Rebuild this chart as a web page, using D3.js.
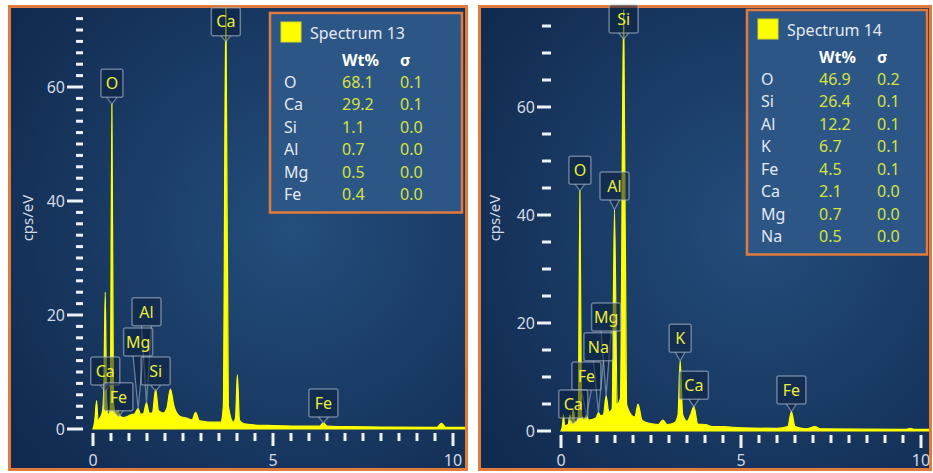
<!DOCTYPE html>
<html>
<head>
<meta charset="utf-8">
<script src="https://cdn.jsdelivr.net/npm/d3@7"></script>
<style>
  body { margin: 0; background: #fff; }
  svg { display: block; font-family: "Noto Sans", "Open Sans", sans-serif; }
</style>
</head>
<body>
<svg id="canvas" width="933" height="473"></svg>
<script>
// spectrum points: [keV, cps/eV]
const spectrum13 = [
  [0, 0], [0.05, 1.5], [0.1, 5], [0.14, 1.5], [0.2, 2], [0.26, 3], [0.3, 7], [0.34, 24],
  [0.38, 5], [0.43, 2.5], [0.48, 3.5], [0.525, 57], [0.57, 4.5], [0.62, 3], [0.7, 3.2],
  [0.76, 2.2], [0.85, 2], [0.95, 2.2], [1.05, 2.5], [1.15, 2.6], [1.253, 3.6], [1.32, 2.6],
  [1.4, 2.7], [1.486, 4.6], [1.56, 2.8], [1.65, 2.8], [1.74, 7], [1.82, 3.2], [1.95, 2.8],
  [2.05, 3.6], [2.15, 7], [2.25, 4], [2.4, 2.3], [2.6, 1.9], [2.75, 1.6], [2.85, 2.9],
  [2.95, 1.5], [3.1, 1.3], [3.3, 1.2], [3.55, 1.2], [3.62, 4], [3.69, 75], [3.76, 4],
  [3.9, 1.2], [3.96, 2], [4.01, 9.5], [4.07, 1.5], [4.2, 0.9], [4.5, 0.7], [5, 0.6],
  [6, 0.5], [6.3, 0.5], [6.4, 1.1], [6.5, 0.5], [7, 0.4], [8, 0.35], [9.55, 0.3],
  [9.68, 1], [9.8, 0.3], [10.5, 0.3]
];
const spectrum14 = [
  [0, 0], [0.04, 1], [0.07, 3], [0.1, 1], [0.2, 1.2], [0.25, 3], [0.28, 1.2], [0.34, 4],
  [0.4, 1.5], [0.48, 2.5], [0.525, 44.5], [0.57, 3], [0.65, 2], [0.705, 3], [0.77, 2],
  [0.9, 2.2], [0.98, 2.5], [1.04, 3.4], [1.1, 2.8], [1.18, 3], [1.253, 6.5], [1.33, 3.5],
  [1.42, 4], [1.486, 41], [1.56, 5], [1.65, 6], [1.74, 78], [1.82, 5], [1.95, 3],
  [2.05, 2.6], [2.14, 5], [2.25, 2], [2.45, 1.4], [2.7, 1.2], [2.83, 2], [2.95, 1.2],
  [3.15, 1.5], [3.25, 3], [3.31, 13], [3.38, 3], [3.5, 1.8], [3.6, 3], [3.69, 4.5],
  [3.8, 1.3], [4.01, 1.2], [4.2, 0.8], [4.5, 0.8], [5, 0.6], [6, 0.5], [6.3, 0.8],
  [6.4, 3.6], [6.5, 0.8], [6.8, 0.4], [7.06, 0.8], [7.2, 0.4], [9.6, 0.3], [9.7, 0.5],
  [9.8, 0.3], [10.5, 0.3]
];

// peak labels: [element, keV, bottom of label box in cps/eV]
const peaks13 = [
  ["Ca", 3.69, 69], ["O", 0.525, 58.2], ["Al", 1.486, 18.1], ["Mg", 1.253, 12.8],
  ["Ca", 0.34, 7.7], ["Si", 1.74, 7.7], ["Fe", 0.705, 3.2], ["Fe", 6.4, 2.1]
];
const peaks14 = [
  ["Si", 1.74, 73.7], ["O", 0.525, 45.7], ["Al", 1.486, 42.8], ["Mg", 1.253, 18.5],
  ["Na", 1.04, 13], ["Fe", 0.705, 7.6], ["Ca", 0.34, 2.4], ["K", 3.31, 14.6],
  ["Ca", 3.69, 5.9], ["Fe", 6.4, 5]
];

// quantification tables
const elements13 = ["O", "Ca", "Si", "Al", "Mg", "Fe"];
const wt13 = ["68.1", "29.2", "1.1", "0.7", "0.5", "0.4"];
const sigma13 = ["0.1", "0.1", "0.0", "0.0", "0.0", "0.0"];
const elements14 = ["O", "Si", "Al", "K", "Fe", "Ca", "Mg", "Na"];
const wt14 = ["46.9", "26.4", "12.2", "6.7", "4.5", "2.1", "0.7", "0.5"];
const sigma14 = ["0.2", "0.1", "0.1", "0.1", "0.1", "0.0", "0.0", "0.0"];

const xTicks = [0, 5, 10];
const yTicks = [0, 20, 40, 60];

const svg = d3.select("#canvas");
const defs = svg.append("defs");

const grad = defs.append("radialGradient").attr("id", "bg")
  .attr("cx", "62%").attr("cy", "48%").attr("r", "75%");
grad.append("stop").attr("offset", "0%").attr("stop-color", "#234e7c");
grad.append("stop").attr("offset", "100%").attr("stop-color", "#112a50");

// panel layout (pixels only here)
const panels = [
  { id: 1, box: [8, 5, 460, 466], xr: [93, 453], y0: 429, y20: 315, yMax: 72, yStep: 2,
    minorY: [76, 83], majorY: [67, 83], labelX: 28,
    spectrum: spectrum13, peaks: peaks13, title: "Spectrum 13",
    els: elements13, wt: wt13, sig: sigma13, legend: [270, 13, 192] },
  { id: 2, box: [478, 5, 454, 466], xr: [561, 921], y0: 431, y20: 323, yMax: 77, yStep: 5,
    minorY: [542, 551], majorY: [537, 551], labelX: 495,
    spectrum: spectrum14, peaks: peaks14, title: "Spectrum 14",
    els: elements14, wt: wt14, sig: sigma14, legend: [747, 10, 180] }
];

const tickCol = "#eef2f7";
const textCol = "#d3dae4";
const fs = 16;

panels.forEach(function(p) {
  const [bx, by, bw, bh] = p.box;
  const g = svg.append("g");

  g.append("rect")
    .attr("x", bx + 1.5).attr("y", by + 1.5)
    .attr("width", bw - 3).attr("height", bh - 3)
    .attr("fill", "url(#bg)")
    .attr("stroke", "#e07b3c").attr("stroke-width", 3);

  const x = d3.scaleLinear().domain([0, 10]).range(p.xr);
  const y = d3.scaleLinear().domain([0, 20]).range([p.y0, p.y20]);

  const clipId = "clip" + p.id;
  defs.append("clipPath").attr("id", clipId)
    .append("rect").attr("x", bx + 3).attr("y", by + 3)
    .attr("width", bw - 6).attr("height", bh - 6);

  // y ticks
  const yt = d3.range(0, p.yMax + 0.01, p.yStep);
  g.selectAll(".ytick").data(yt).enter().append("line")
    .attr("x1", d => yTicks.includes(d) ? p.majorY[0] : p.minorY[0])
    .attr("x2", d => yTicks.includes(d) ? p.majorY[1] : p.minorY[1])
    .attr("y1", d => y(d)).attr("y2", d => y(d))
    .attr("stroke", tickCol).attr("stroke-width", 3);
  g.selectAll(".ylab").data(yTicks).enter().append("text")
    .attr("x", p.majorY[0] - 2).attr("y", d => y(d))
    .attr("dy", "0.36em").attr("text-anchor", "end")
    .attr("fill", textCol).attr("font-size", fs)
    .text(d => d);

  // x ticks
  const xt = d3.range(0, 10.01, 0.5);
  g.selectAll(".xtick").data(xt).enter().append("line")
    .attr("x1", d => x(d)).attr("x2", d => x(d))
    .attr("y1", p.y0 + 4)
    .attr("y2", d => xTicks.includes(d) ? p.y0 + 17 : p.y0 + 12)
    .attr("stroke", tickCol).attr("stroke-width", 3);
  g.selectAll(".xlab").data(xTicks).enter().append("text")
    .attr("x", d => x(d)).attr("y", 466)
    .attr("text-anchor", "middle")
    .attr("fill", textCol).attr("font-size", fs)
    .text(d => d);

  g.append("text")
    .attr("transform", "translate(" + (p.labelX + 5) + ",218) rotate(-90)")
    .attr("text-anchor", "middle")
    .attr("fill", textCol).attr("font-size", 15)
    .text("cps/eV");

  // spectrum
  const area = d3.area()
    .x(d => x(d[0])).y0(y(0)).y1(d => y(d[1]))
    .curve(d3.curveMonotoneX);
  g.append("path")
    .datum(p.spectrum)
    .attr("clip-path", "url(#" + clipId + ")")
    .attr("d", area)
    .attr("fill", "#ffff00")
    .attr("stroke", "#ffff00").attr("stroke-width", 1.2);

  // peak labels
  const lab = g.append("g");
  p.peaks.forEach(function(pk) {
    const [el, kev, bottom] = pk;
    const top = d3.max(p.spectrum.filter(d => Math.abs(d[0] - kev) < 0.03), d => d[1]) || 0;
    const cx = x(kev);
    const yb = y(bottom);
    const tipY = Math.max(y(top), yb + 6);
    const w = el.length === 1 ? 22 : 29;
    const h = 28;
    lab.append("path")
      .attr("d", "M" + (cx - 5) + "," + yb + "L" + cx + "," + tipY + "L" + (cx + 5) + "," + yb)
      .attr("fill", "rgba(12,32,62,0.55)")
      .attr("stroke", "rgba(175,190,210,0.55)").attr("stroke-width", 1.3);
    lab.append("rect")
      .attr("x", cx - w / 2).attr("y", yb - h)
      .attr("width", w).attr("height", h).attr("rx", 2)
      .attr("fill", "rgba(12,32,62,0.55)")
      .attr("stroke", "rgba(175,190,210,0.55)").attr("stroke-width", 1.5);
    lab.append("text")
      .attr("x", cx).attr("y", yb - h / 2)
      .attr("dy", "0.36em").attr("text-anchor", "middle")
      .attr("fill", "#ecec3a").attr("font-size", 16)
      .text(el);
  });

  // legend table
  const [lx, ly, lw] = p.legend;
  const lh = 69 + (p.els.length - 1) * 22.5 + 18;
  const lg = g.append("g");
  lg.append("rect")
    .attr("x", lx).attr("y", ly).attr("width", lw).attr("height", lh)
    .attr("fill", "#2c5686")
    .attr("stroke", "#e07b3c").attr("stroke-width", 2.5);
  lg.append("rect")
    .attr("x", lx + 11).attr("y", ly + 9).attr("width", 20).attr("height", 20)
    .attr("fill", "#ffff00").attr("stroke", "#d8d820").attr("stroke-width", 1);
  lg.append("text")
    .attr("x", lx + 40).attr("y", ly + 20).attr("dy", "0.36em")
    .attr("fill", "#e4e9f0").attr("font-size", fs)
    .text(p.title);
  lg.append("text")
    .attr("x", lx + 72).attr("y", ly + 47).attr("dy", "0.36em")
    .attr("fill", "#ffffff").attr("font-size", fs).attr("font-weight", "bold")
    .text("Wt%");
  lg.append("text")
    .attr("x", lx + 130).attr("y", ly + 47).attr("dy", "0.36em")
    .attr("fill", "#ffffff").attr("font-size", fs).attr("font-weight", "bold")
    .text("σ");

  const rows = lg.selectAll(".row").data(p.els).enter().append("g")
    .attr("transform", (d, i) => "translate(0," + (ly + 69 + i * 22.5) + ")");
  rows.append("text")
    .attr("x", lx + 14).attr("dy", "0.36em")
    .attr("fill", "#e4e9f0").attr("font-size", fs)
    .text(d => d);
  rows.append("text")
    .attr("x", lx + 72).attr("dy", "0.36em")
    .attr("fill", "#d6e23c").attr("font-size", fs)
    .text((d, i) => p.wt[i]);
  rows.append("text")
    .attr("x", lx + 130).attr("dy", "0.36em")
    .attr("fill", "#d6e23c").attr("font-size", fs)
    .text((d, i) => p.sig[i]);
});
</script>
</body>
</html>
